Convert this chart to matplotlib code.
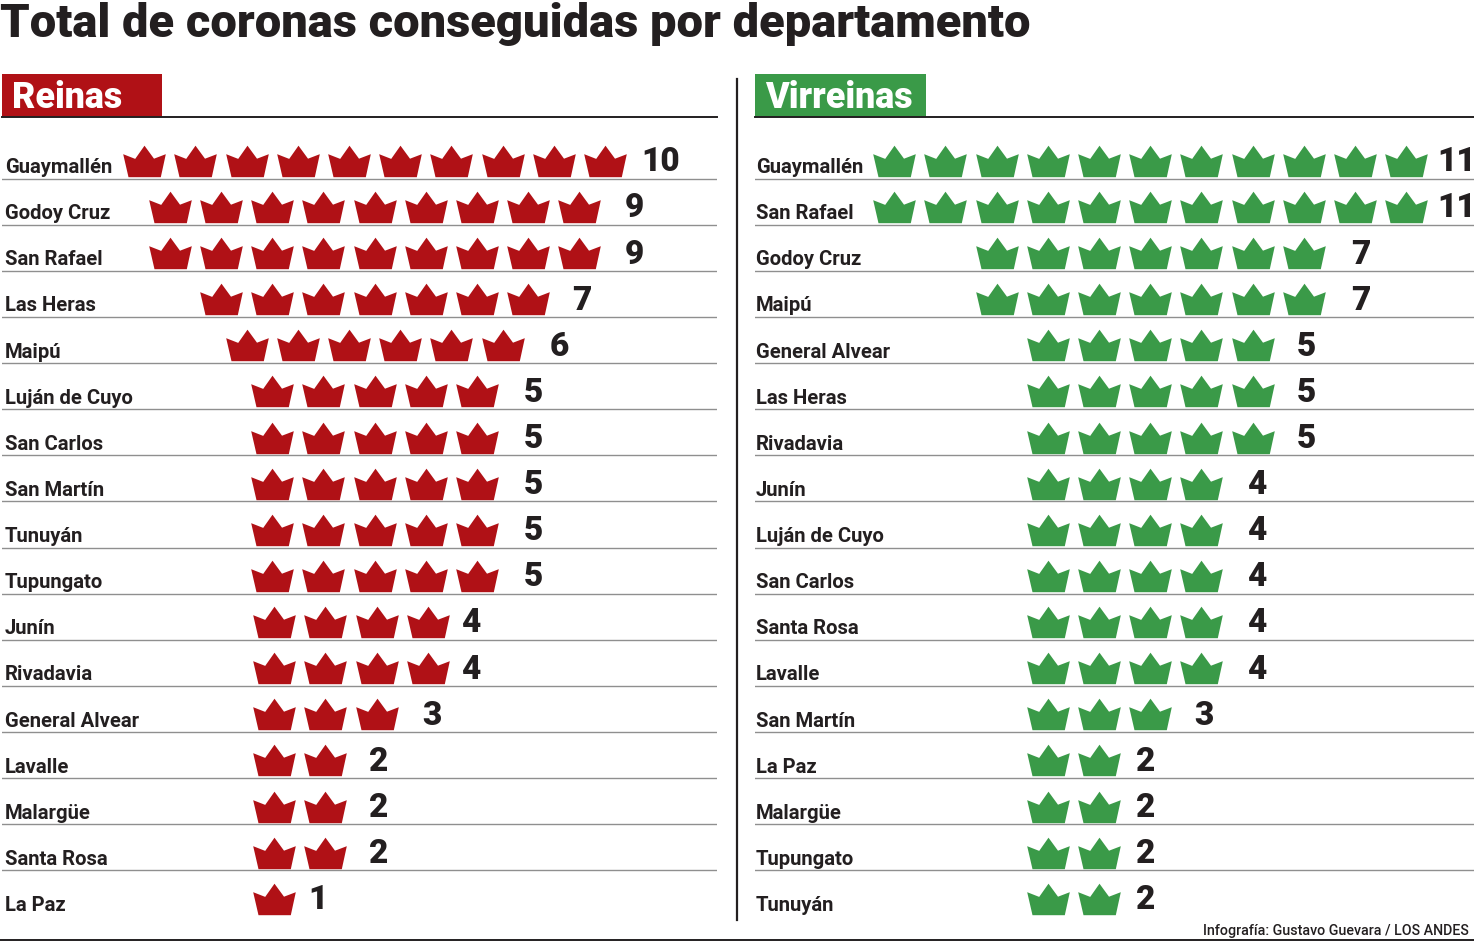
import matplotlib
matplotlib.use("Agg")
import matplotlib.pyplot as plt
from matplotlib.path import Path
from matplotlib.patches import Rectangle
from matplotlib.lines import Line2D

title = "Total de coronas conseguidas por departamento"
credit = "Infografía: Gustavo Guevara / LOS ANDES"

reinas_names = ["Guaymallén", "Godoy Cruz", "San Rafael", "Las Heras", "Maipú", "Luján de Cuyo",
                "San Carlos", "San Martín", "Tunuyán", "Tupungato", "Junín", "Rivadavia",
                "General Alvear", "Lavalle", "Malargüe", "Santa Rosa", "La Paz"]
reinas_vals = [10, 9, 9, 7, 6, 5, 5, 5, 5, 5, 4, 4, 3, 2, 2, 2, 1]

virreinas_names = ["Guaymallén", "San Rafael", "Godoy Cruz", "Maipú", "General Alvear", "Las Heras",
                   "Rivadavia", "Junín", "Luján de Cuyo", "San Carlos", "Santa Rosa", "Lavalle",
                   "San Martín", "La Paz", "Malargüe", "Tupungato", "Tunuyán"]
virreinas_vals = [11, 11, 7, 7, 5, 5, 5, 4, 4, 4, 4, 4, 3, 2, 2, 2, 2]

W, H = 1474, 941
RED, GREEN, INK, RULE = "#b01116", "#3a9a48", "#231f20", "#8f8f8f"
FONT = "Roboto"
plt.rcParams["font.family"] = [FONT, "DejaVu Sans"]

fig = plt.figure(figsize=(W / 100, H / 100), dpi=100, facecolor="white")

crown = Path([(-16, -15.7), (-21.3, 7.3), (-9.3, 2.6), (0, 15.8), (9.5, 2.8), (21.3, 7.3),
              (16.3, -15.7), (-16, -15.7)],
             [Path.MOVETO] + [Path.LINETO] * 6 + [Path.CLOSEPOLY])
CROWN_S = (21.3 * 2 * 0.72) ** 2

ROW0, ROW_H, SLOT = 178.6, 46.12, 51.2
AX_TOP, AX_BOT = 117.0, 922.0


def panel(x0, x1, slot0, names, vals, color, center, low_start, val_off, head_w, head, name_pad):
    ax = fig.add_axes([x0 / W, 1 - AX_BOT / H, (x1 - x0) / W, (AX_BOT - AX_TOP) / H])
    ax.set_xlim((x0 - slot0) / SLOT, (x1 - slot0) / SLOT)
    ax.set_ylim((AX_BOT - ROW0) / ROW_H, (AX_TOP - ROW0) / ROW_H)
    ax.set_axis_off()
    xs, ys = [], []
    for r, (name, n) in enumerate(zip(names, vals)):
        start = center - (n - 1) / 2 if n >= 5 else low_start
        xs += [start + i for i in range(n)]
        ys += [r - 0.385] * n
        ax.text(name_pad, r - 0.12, name, transform=ax.get_yaxis_transform(), ha="left", va="baseline",
                fontsize=14.6, fontweight=700, color=INK)
        ax.annotate(str(n), (start + n - 1, r - 0.43), xytext=(val_off[n] * 0.72, 0),
                    textcoords="offset points", ha="center", va="center_baseline",
                    fontsize=24, fontweight=900, color=INK)
        if r < len(names) - 1:
            ax.axhline(r, color=RULE, lw=1.0, zorder=1)
    ax.scatter(xs, ys, marker=crown, s=CROWN_S, color=color, linewidths=0, zorder=2)

    fig.add_artist(Rectangle((x0 / W, 1 - 116.5 / H), head_w / W, 42.5 / H, transform=fig.transFigure,
                             facecolor=color, edgecolor="none"))
    fig.add_artist(Line2D([x0 / W, x1 / W], [1 - 117 / H] * 2, color=INK, lw=1.4))
    fig.text((x0 + 10) / W, 1 - 108 / H, head, color="white", fontsize=25.8, fontweight=900,
             ha="left", va="baseline")


panel(2, 717, 144.2, reinas_names, reinas_vals, RED, 4.5, 2.54,
      {10: 56, 9: 55, 7: 54, 6: 57, 5: 56, 4: 43, 3: 55, 2: 53, 1: 44}, 160, "Reinas", 0.004)
panel(755, 1474, 894.2, virreinas_names, virreinas_vals, GREEN, 5, 3,
      {11: 50, 7: 57, 5: 54, 4: 55, 3: 54, 2: 47}, 171, "Virreinas", 0.001)

fig.text(0, 1 - 37 / H, title, fontsize=33.9, fontweight=900, color=INK, ha="left", va="baseline")
fig.text(1469 / W, 1 - 935 / H, credit, fontsize=10.3, fontweight=500, color=INK, ha="right", va="baseline")
fig.add_artist(Line2D([737 / W] * 2, [1 - 79 / H, 1 - 920 / H], color=INK, lw=1.6))
fig.add_artist(Line2D([0, 1], [1 - 939.5 / H] * 2, color=INK, lw=1.4))

fig.savefig("out.png", dpi=100)
